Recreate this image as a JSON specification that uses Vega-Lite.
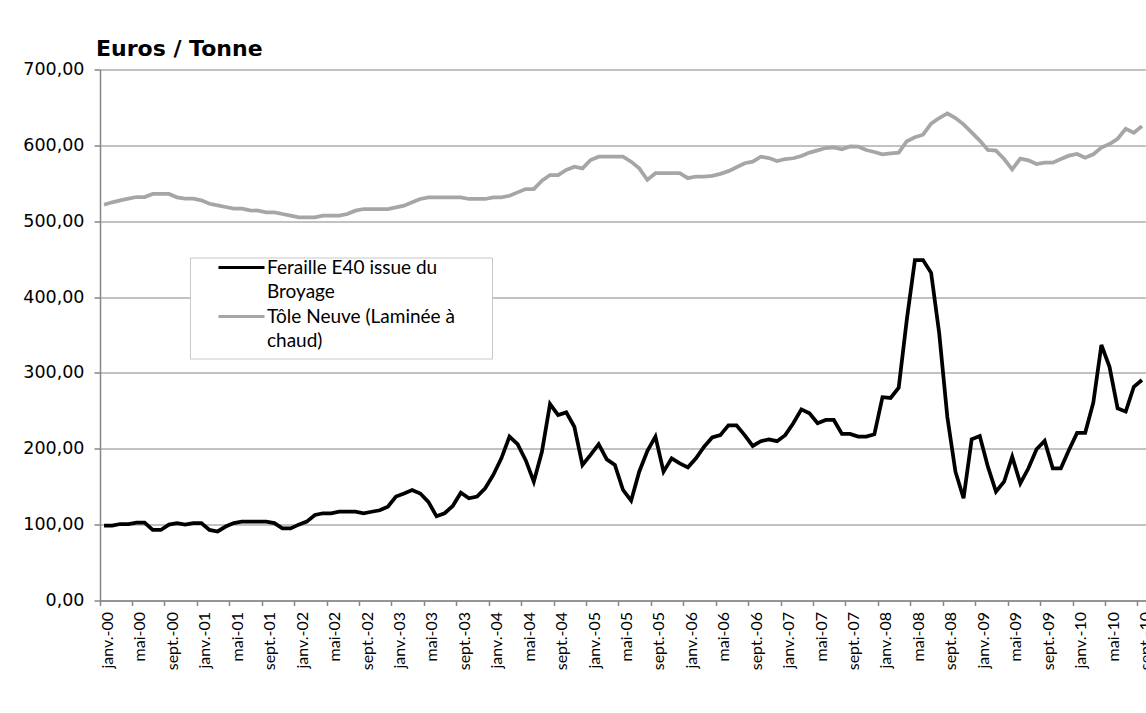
{
  "$schema": "https://vega.github.io/schema/vega-lite/v6.json",
  "width": 1046,
  "height": 531,
  "autosize": {"type": "none"},
  "padding": {"left": 100, "top": 69.5, "right": 0, "bottom": 112.5},
  "background": "white",
  "title": {"text": "Euros / Tonne", "anchor": "start", "frame": "group", "font": "DejaVu Sans", "fontSize": 22, "fontWeight": "bold", "color": "#000000", "baseline": "alphabetic", "offset": 15, "dx": -4, "dy": 32},
  "config": {
    "locale": {"number": {"decimal": ",", "thousands": " ", "grouping": [3], "currency": ["", " €"]}},
    "view": {"stroke": null},
    "style": {"guide-label": {"lineHeight": 24}}
  },
  "data": {"values": [
    {"mois": "janv.-00", "feraille": 98.6, "tole": 521.7},
    {"mois": "févr.-00", "feraille": 98.6, "tole": 524.9},
    {"mois": "mars-00", "feraille": 100.8, "tole": 527.5},
    {"mois": "avr.-00", "feraille": 100.8, "tole": 529.7},
    {"mois": "mai-00", "feraille": 102.6, "tole": 531.9},
    {"mois": "juin-00", "feraille": 102.6, "tole": 531.9},
    {"mois": "juil.-00", "feraille": 93, "tole": 535.9},
    {"mois": "août-00", "feraille": 93, "tole": 535.9},
    {"mois": "sept.-00", "feraille": 100, "tole": 535.9},
    {"mois": "oct.-00", "feraille": 102, "tole": 531.5},
    {"mois": "nov.-00", "feraille": 100, "tole": 529.7},
    {"mois": "déc.-00", "feraille": 102, "tole": 529.7},
    {"mois": "janv.-01", "feraille": 102, "tole": 527.5},
    {"mois": "févr.-01", "feraille": 93, "tole": 523},
    {"mois": "mars-01", "feraille": 91, "tole": 520.9},
    {"mois": "avr.-01", "feraille": 97.5, "tole": 518.7},
    {"mois": "mai-01", "feraille": 102, "tole": 516.5},
    {"mois": "juin-01", "feraille": 104, "tole": 516.5},
    {"mois": "juil.-01", "feraille": 104, "tole": 514.3},
    {"mois": "août-01", "feraille": 104, "tole": 514},
    {"mois": "sept.-01", "feraille": 104, "tole": 511.7},
    {"mois": "oct.-01", "feraille": 102, "tole": 511.7},
    {"mois": "nov.-01", "feraille": 95, "tole": 509.5},
    {"mois": "déc.-01", "feraille": 95, "tole": 507.3},
    {"mois": "janv.-02", "feraille": 100, "tole": 505.1},
    {"mois": "févr.-02", "feraille": 104, "tole": 505.1},
    {"mois": "mars-02", "feraille": 112.7, "tole": 505.1},
    {"mois": "avr.-02", "feraille": 115, "tole": 507.3},
    {"mois": "mai-02", "feraille": 115, "tole": 507.3},
    {"mois": "juin-02", "feraille": 117, "tole": 507.3},
    {"mois": "juil.-02", "feraille": 117, "tole": 509.5},
    {"mois": "août-02", "feraille": 117, "tole": 513.9},
    {"mois": "sept.-02", "feraille": 115, "tole": 516.1},
    {"mois": "oct.-02", "feraille": 117, "tole": 516.1},
    {"mois": "nov.-02", "feraille": 119, "tole": 516.1},
    {"mois": "déc.-02", "feraille": 123.7, "tole": 516.1},
    {"mois": "janv.-03", "feraille": 137, "tole": 518.3},
    {"mois": "févr.-03", "feraille": 141, "tole": 520.5},
    {"mois": "mars-03", "feraille": 145.6, "tole": 524.9},
    {"mois": "avr.-03", "feraille": 141, "tole": 529.3},
    {"mois": "mai-03", "feraille": 130, "tole": 531.5},
    {"mois": "juin-03", "feraille": 111, "tole": 531.5},
    {"mois": "juil.-03", "feraille": 115, "tole": 531.5},
    {"mois": "août-03", "feraille": 124.6, "tole": 531.5},
    {"mois": "sept.-03", "feraille": 142, "tole": 531.5},
    {"mois": "oct.-03", "feraille": 134.7, "tole": 529.3},
    {"mois": "nov.-03", "feraille": 137, "tole": 529.3},
    {"mois": "déc.-03", "feraille": 148, "tole": 529.3},
    {"mois": "janv.-04", "feraille": 165.5, "tole": 531.5},
    {"mois": "févr.-04", "feraille": 187.4, "tole": 531.5},
    {"mois": "mars-04", "feraille": 216, "tole": 533.6},
    {"mois": "avr.-04", "feraille": 206, "tole": 538},
    {"mois": "mai-04", "feraille": 185, "tole": 542.4},
    {"mois": "juin-04", "feraille": 156.6, "tole": 542.4},
    {"mois": "juil.-04", "feraille": 196, "tole": 553.4},
    {"mois": "août-04", "feraille": 259, "tole": 560.9},
    {"mois": "sept.-04", "feraille": 244.5, "tole": 560.9},
    {"mois": "oct.-04", "feraille": 248, "tole": 567.5},
    {"mois": "nov.-04", "feraille": 229, "tole": 571.9},
    {"mois": "déc.-04", "feraille": 178.6, "tole": 569.7},
    {"mois": "janv.-05", "feraille": 192, "tole": 580.7},
    {"mois": "févr.-05", "feraille": 206, "tole": 585},
    {"mois": "mars-05", "feraille": 186, "tole": 585},
    {"mois": "avr.-05", "feraille": 178.6, "tole": 585},
    {"mois": "mai-05", "feraille": 145.7, "tole": 585},
    {"mois": "juin-05", "feraille": 131.6, "tole": 578.5},
    {"mois": "juil.-05", "feraille": 169.8, "tole": 569.7},
    {"mois": "août-05", "feraille": 197, "tole": 554.5},
    {"mois": "sept.-05", "feraille": 216, "tole": 563.3},
    {"mois": "oct.-05", "feraille": 169.8, "tole": 563.3},
    {"mois": "nov.-05", "feraille": 187.4, "tole": 563.3},
    {"mois": "déc.-05", "feraille": 180.8, "tole": 563.3},
    {"mois": "janv.-06", "feraille": 175.5, "tole": 556.7},
    {"mois": "févr.-06", "feraille": 187.4, "tole": 558.9},
    {"mois": "mars-06", "feraille": 202.8, "tole": 558.9},
    {"mois": "avr.-06", "feraille": 215, "tole": 559.7},
    {"mois": "mai-06", "feraille": 218, "tole": 562.4},
    {"mois": "juin-06", "feraille": 231, "tole": 566},
    {"mois": "juil.-06", "feraille": 231, "tole": 571.2},
    {"mois": "août-06", "feraille": 218, "tole": 576.4},
    {"mois": "sept.-06", "feraille": 203.7, "tole": 578.5},
    {"mois": "oct.-06", "feraille": 210, "tole": 585},
    {"mois": "nov.-06", "feraille": 212.5, "tole": 583.3},
    {"mois": "déc.-06", "feraille": 210, "tole": 579.4},
    {"mois": "janv.-07", "feraille": 218, "tole": 582},
    {"mois": "févr.-07", "feraille": 233.6, "tole": 583},
    {"mois": "mars-07", "feraille": 252, "tole": 586},
    {"mois": "avr.-07", "feraille": 246.7, "tole": 590.4},
    {"mois": "mai-07", "feraille": 233.6, "tole": 593.4},
    {"mois": "juin-07", "feraille": 238, "tole": 596.5},
    {"mois": "juil.-07", "feraille": 238, "tole": 597.4},
    {"mois": "août-07", "feraille": 219.5, "tole": 594.7},
    {"mois": "sept.-07", "feraille": 219.5, "tole": 598.6},
    {"mois": "oct.-07", "feraille": 216, "tole": 598.2},
    {"mois": "nov.-07", "feraille": 216, "tole": 593.9},
    {"mois": "déc.-07", "feraille": 219, "tole": 591.3},
    {"mois": "janv.-08", "feraille": 268, "tole": 588.2},
    {"mois": "févr.-08", "feraille": 267, "tole": 589.5},
    {"mois": "mars-08", "feraille": 280.5, "tole": 590.4},
    {"mois": "avr.-08", "feraille": 370, "tole": 605.4},
    {"mois": "mai-08", "feraille": 448.8, "tole": 610.6},
    {"mois": "juin-08", "feraille": 448.8, "tole": 614.1},
    {"mois": "juil.-08", "feraille": 432, "tole": 628.6},
    {"mois": "août-08", "feraille": 352, "tole": 636},
    {"mois": "sept.-08", "feraille": 242, "tole": 642.2},
    {"mois": "oct.-08", "feraille": 169.8, "tole": 636},
    {"mois": "nov.-08", "feraille": 134.7, "tole": 627.7},
    {"mois": "déc.-08", "feraille": 212.5, "tole": 617.2},
    {"mois": "janv.-09", "feraille": 216.8, "tole": 606.3},
    {"mois": "févr.-09", "feraille": 176.4, "tole": 594},
    {"mois": "mars-09", "feraille": 143.4, "tole": 593.1},
    {"mois": "avr.-09", "feraille": 156.6, "tole": 582},
    {"mois": "mai-09", "feraille": 189.6, "tole": 568.4},
    {"mois": "juin-09", "feraille": 154.5, "tole": 582.5},
    {"mois": "juil.-09", "feraille": 174.3, "tole": 580.3},
    {"mois": "août-09", "feraille": 199.3, "tole": 575.4},
    {"mois": "sept.-09", "feraille": 210.3, "tole": 577.2},
    {"mois": "oct.-09", "feraille": 174.3, "tole": 577.2},
    {"mois": "nov.-09", "feraille": 174.3, "tole": 582},
    {"mois": "déc.-09", "feraille": 198.4, "tole": 586.4},
    {"mois": "janv.-10", "feraille": 221, "tole": 588.6},
    {"mois": "févr.-10", "feraille": 221, "tole": 583.8},
    {"mois": "mars-10", "feraille": 260.8, "tole": 588.2},
    {"mois": "avr.-10", "feraille": 336.8, "tole": 597},
    {"mois": "mai-10", "feraille": 308, "tole": 601.7},
    {"mois": "juin-10", "feraille": 253.3, "tole": 608.7},
    {"mois": "juil.-10", "feraille": 249, "tole": 621.9},
    {"mois": "août-10", "feraille": 281.8, "tole": 616.6},
    {"mois": "sept.-10", "feraille": 290.7, "tole": 625.4}
  ]},
  "transform": [{"fold": ["feraille", "tole"], "as": ["serie", "valeur"]}],
  "mark": {"type": "line", "strokeWidth": 3.75, "clip": true},
  "encoding": {
    "x": {
      "field": "mois", "type": "ordinal", "sort": null,
      "scale": {"type": "band", "paddingInner": 0, "paddingOuter": 0},
      "axis": {
        "title": null,
        "values": ["janv.-00", "mai-00", "sept.-00", "janv.-01", "mai-01", "sept.-01", "janv.-02", "mai-02", "sept.-02", "janv.-03", "mai-03", "sept.-03", "janv.-04", "mai-04", "sept.-04", "janv.-05", "mai-05", "sept.-05", "janv.-06", "mai-06", "sept.-06", "janv.-07", "mai-07", "sept.-07", "janv.-08", "mai-08", "sept.-08", "janv.-09", "mai-09", "sept.-09", "janv.-10", "mai-10", "sept.-10"],
        "labelAngle": -90, "bandPosition": 0, "labelOffset": 4,
        "tickSize": 5, "tickColor": "#868686", "domainColor": "#868686", "tickWidth": 1.5, "domainWidth": 1.5,
        "labelFont": "Lato", "labelFontSize": 16, "labelColor": "#000000", "labelPadding": 6, "grid": false
      }
    },
    "y": {
      "field": "valeur", "type": "quantitative",
      "scale": {"domain": [0, 700]},
      "axis": {
        "title": null, "values": [0, 100, 200, 300, 400, 500, 600, 700], "format": ".2f",
        "tickSize": 6, "labelFont": "DejaVu Sans", "labelFontSize": 17.5, "labelPadding": 10,
        "gridColor": "#868686", "gridWidth": 1.2, "domainColor": "#868686", "domainWidth": 1.5, "tickColor": "#868686", "tickWidth": 1.5, "labelColor": "#000000"
      }
    },
    "color": {
      "field": "serie", "type": "nominal",
      "scale": {"domain": ["feraille", "tole"], "range": ["#000000", "#a6a6a6"]},
      "legend": {
        "title": null, "orient": "none", "legendX": 90, "legendY": 188, "direction": "vertical",
        "symbolType": "M-8.4,-1.3H0.8", "symbolStrokeWidth": 3, "symbolSize": 100,
        "labelExpr": "datum.value == 'feraille' ? ['Feraille E40 issue du', 'Broyage'] : ['Tôle Neuve (Laminée à\u00a0\u00a0\u00a0\u00a0\u00a0\u00a0\u200b', 'chaud)']",
        "labelFont": "Lato", "labelFontSize": 19, "labelColor": "#000000", "labelBaseline": "alphabetic", "labelLimit": 400,
        "padding": 7, "strokeColor": "#c8c8c8", "fillColor": "white", "symbolOffset": 54, "labelOffset": -3, "rowPadding": 5
      }
    }
  }
}
